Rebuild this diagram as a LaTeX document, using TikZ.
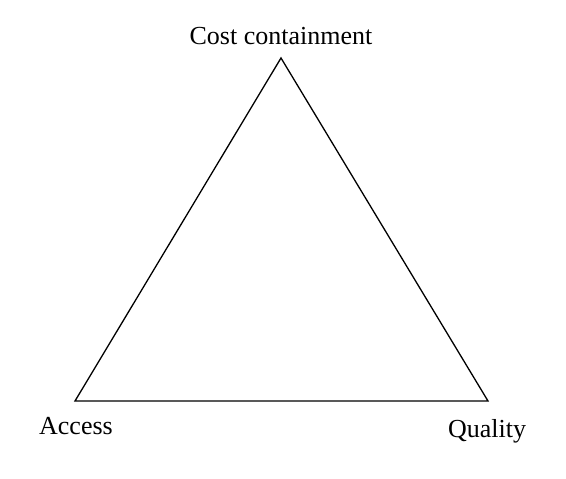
\documentclass[tikz,border=0pt]{standalone}
\usepackage{fontspec}
\setmainfont{Liberation Serif}
\usetikzlibrary{positioning}

\begin{document}
\begin{tikzpicture}[x=1pt,y=-1pt,
    corner/.style={inner sep=0pt,anchor=base,font=\fontsize{26}{30}\selectfont}]
  \useasboundingbox (0,0) rectangle (566,479);

  \coordinate (cost) at (281,58);
  \coordinate (acc) at (75,401);
  \coordinate (qual) at (488,401);
  \draw[line width=1.3pt] (cost) -- (acc) -- (qual) -- cycle;

  \node[corner] (costlabel) at (281,45) {Cost containment};
  \node[corner] (acclabel) at (76,434) {Access};
  \node[corner] (quallabel) at (487,437) {Quality};
\end{tikzpicture}
\end{document}
